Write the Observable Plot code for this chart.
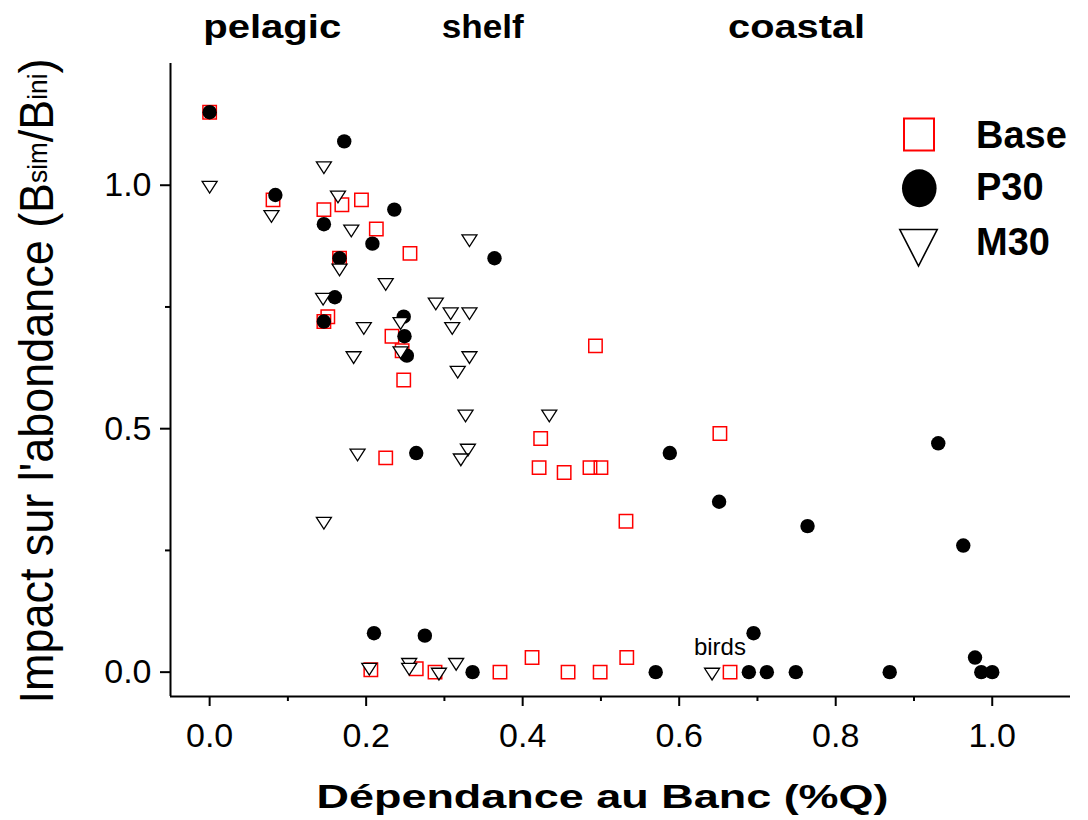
<!DOCTYPE html>
<html><head><meta charset="utf-8">
<script src="https://cdn.jsdelivr.net/npm/d3@7"></script>
<script src="https://cdn.jsdelivr.net/npm/@observablehq/plot@0.6"></script>
<style>
body{margin:0;background:#fff;}
#wrap{position:relative;width:1088px;height:820px;font-family:"Liberation Sans",Arial,sans-serif;}
#legend{position:absolute;left:880px;top:100px;}
</style></head><body><div id="wrap"></div>
<script>
// ---- data ----
const seriesNames = ["Base", "P30", "M30"];
const baseX = [0, 0.081, 0.169, 0.194, 0.146, 0.213, 0.256, 0.166, 0.151, 0.146, 0.233, 0.246, 0.248, 0.493, 0.423, 0.225, 0.421, 0.453, 0.486, 0.500, 0.532, 0.652, 0.206, 0.264, 0.288, 0.371, 0.412, 0.458, 0.499, 0.533, 0.665];
const baseY = [1.15, 0.97, 0.96, 0.97, 0.95, 0.91, 0.86, 0.85, 0.73, 0.72, 0.69, 0.66, 0.60, 0.67, 0.48, 0.44, 0.42, 0.41, 0.42, 0.42, 0.31, 0.49, 0.005, 0.007, 0.0, 0.0, 0.03, 0.0, 0.0, 0.03, 0.0];
const p30X = [0, 0.172, 0.084, 0.236, 0.146, 0.208, 0.364, 0.166, 0.160, 0.146, 0.248, 0.249, 0.252, 0.264, 0.588, 0.651, 0.764, 0.931, 0.963, 0.210, 0.275, 0.336, 0.570, 0.695, 0.689, 0.712, 0.749, 0.869, 0.978, 0.986, 1.0];
const p30Y = [1.15, 1.09, 0.98, 0.95, 0.92, 0.88, 0.85, 0.85, 0.77, 0.72, 0.73, 0.69, 0.65, 0.45, 0.45, 0.35, 0.30, 0.47, 0.26, 0.08, 0.075, 0.0, 0.0, 0.08, 0.0, 0.0, 0.0, 0.0, 0.03, 0.0, 0.0];
const m30X = [0, 0.146, 0.079, 0.164, 0.181, 0.332, 0.166, 0.225, 0.145, 0.289, 0.308, 0.332, 0.244, 0.197, 0.310, 0.244, 0.184, 0.332, 0.317, 0.327, 0.434, 0.189, 0.330, 0.321, 0.146, 0.204, 0.255, 0.255, 0.293, 0.315, 0.642];
const m30Y = [1.0, 1.04, 0.94, 0.98, 0.91, 0.89, 0.83, 0.80, 0.77, 0.76, 0.74, 0.74, 0.72, 0.71, 0.71, 0.66, 0.65, 0.65, 0.62, 0.53, 0.53, 0.45, 0.46, 0.44, 0.31, 0.01, 0.02, 0.01, 0.0, 0.02, 0.0];
const xDomain = [-0.05, 1.1];
const yDomain = [-0.05, 1.25];
const xTicks = [0, 0.2, 0.4, 0.6, 0.8, 1.0];
const xMinorTicks = [0.1, 0.3, 0.5, 0.7, 0.9];
const yTicks = [0, 0.5, 1.0];
const yMinorTicks = [0.25, 0.75];
const zoneLabels = ["pelagic", "shelf", "coastal"];
const zoneX = [0.08, 0.349, 0.75];
const noteLabels = ["birds"];
const noteX = [0.652];
const noteY = [0.035];
const xTitle = "Dépendance au Banc (%Q)";
const yTitle = "Impact sur l'abondance (Bsim/Bini)";

// ---- build ----
const zip = (xs, ys) => xs.map((x, i) => ({x, y: ys[i]}));
const base = zip(baseX, baseY), p30 = zip(p30X, p30Y), m30 = zip(m30X, m30Y);

const squareSym = {draw(c) { const s = 6.7; c.moveTo(-s, -s); c.lineTo(s, -s); c.lineTo(s, s); c.lineTo(-s, s); c.closePath(); }};
const triSym = {draw(c) { c.moveTo(-7.5, -3.9); c.lineTo(7.5, -3.9); c.lineTo(0, 7.8); c.closePath(); }};

const fmt = d3.format(".1f");
const chart = Plot.plot({
  width: 1088, height: 820,
  marginLeft: 170, marginRight: 18, marginTop: 63, marginBottom: 124,
  style: {fontFamily: "Liberation Sans, Arial, sans-serif", color: "#000", background: "#fff"},
  x: {domain: xDomain},
  y: {domain: yDomain},
  marks: [
    Plot.axisX({ticks: xTicks, tickSize: 10, tickPadding: 16, tickFormat: fmt, fontSize: 34, strokeWidth: 2, label: null}),
    Plot.axisX({ticks: xMinorTicks, tickSize: 5, tickFormat: () => "", strokeWidth: 2, label: null}),
    Plot.axisY({ticks: yTicks, tickSize: 10, tickPadding: 9, tickFormat: fmt, fontSize: 34, strokeWidth: 2, label: null}),
    Plot.axisY({ticks: yMinorTicks, tickSize: 5, tickFormat: () => "", strokeWidth: 2, label: null}),
    Plot.ruleX([xDomain[0]], {strokeWidth: 2, stroke: "#000"}),
    Plot.ruleY([yDomain[0]], {strokeWidth: 2, stroke: "#000"}),
    Plot.dot(base, {x: "x", y: "y", symbol: squareSym, stroke: "#ff0000", strokeWidth: 1.5, fill: "none"}),
    Plot.dot(p30, {x: "x", y: "y", r: 7.2, fill: "#000", stroke: "none"}),
    Plot.dot(m30, {x: "x", y: "y", symbol: triSym, stroke: "#000", strokeWidth: 1.3, fill: "#fff"}),
    Plot.text(noteLabels, {x: noteX, y: noteY, text: d => d, fontSize: 24, lineAnchor: "bottom", fill: "#000"}),
    Plot.text(zoneLabels, {x: zoneX, text: d => d, frameAnchor: "top", dy: -25.5, lineAnchor: "bottom", fontSize: 33, fontWeight: "bold", fill: "#000"}),
    Plot.text([xTitle], {text: d => d, frameAnchor: "bottom", textAnchor: "middle", dx: -18, dy: 111, lineAnchor: "bottom", fontSize: 34, fontWeight: "bold", fill: "#000"}),
    Plot.text([yTitle], {text: d => d, frameAnchor: "left", textAnchor: "middle", rotate: -90, dx: -133, dy: 1, lineAnchor: "middle", fontSize: 48, fill: "#000"})
  ]
});
document.getElementById("wrap").appendChild(chart);

// ---- text shaping ----
const stretchW = {"pelagic": 138, "shelf": 82, "coastal": 137};
stretchW[xTitle] = 572;
const NS = "http://www.w3.org/2000/svg";
chart.querySelectorAll("text").forEach(t => {
  const s = t.textContent;
  if (stretchW[s]) {
    t.setAttribute("textLength", stretchW[s]);
    t.setAttribute("lengthAdjust", "spacingAndGlyphs");
  }
  if (s === yTitle) {
    while (t.firstChild) t.removeChild(t.firstChild);
    const parts = [["Impact sur l'abondance (B", null, 0], ["sim", 28, -6], ["/B", 48, 6], ["ini", 28, -6], [")", 48, 6]];
    parts.forEach(([txt, fs, dy]) => {
      const sp = document.createElementNS(NS, "tspan");
      if (fs) sp.setAttribute("font-size", fs);
      if (dy) sp.setAttribute("dy", dy);
      sp.textContent = txt;
      t.appendChild(sp);
    });
    t.setAttribute("text-anchor", "middle");
    const len = t.getComputedTextLength();
    const k = 645 / len;
    const tr = t.getAttribute("transform") || "";
    t.setAttribute("transform", tr + ` scale(${k.toFixed(4)},1)`);
  }
});

// ---- legend ----
const legend = document.createElementNS(NS, "svg");
legend.setAttribute("id", "legend");
legend.setAttribute("width", 200);
legend.setAttribute("height", 180);
const items = [
  {name: seriesNames[0], sym: '<rect x="24" y="18.5" width="30" height="32" fill="none" stroke="#ff0000" stroke-width="2"/>', base: 48},
  {name: seriesNames[1], sym: '<ellipse cx="39.3" cy="88.3" rx="17.3" ry="19" fill="#000"/>', base: 100},
  {name: seriesNames[2], sym: '<polygon points="19.8,129.5 57.2,129.5 38.5,166" fill="#fff" stroke="#000" stroke-width="1.6"/>', base: 155}
];
legend.innerHTML = items.map(it => it.sym + `<text x="96" y="${it.base}" font-family="Liberation Sans, Arial, sans-serif" font-weight="bold" font-size="38" fill="#000">${it.name}</text>`).join("");
document.getElementById("wrap").appendChild(legend);
</script>
</body></html>
